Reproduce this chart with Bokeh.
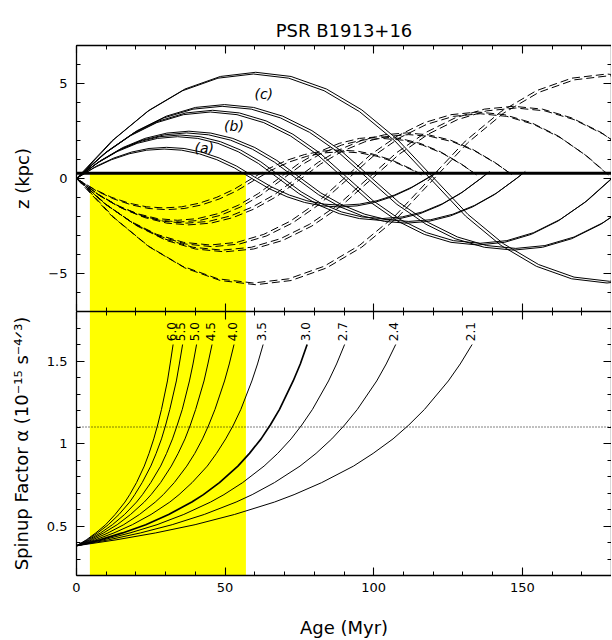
from bokeh.plotting import figure
from bokeh.models import (Range1d, LinearAxis, SingleIntervalTicker, Span, BoxAnnotation,
                          ColumnDataSource, CustomJSTickFormatter)
from bokeh.layouts import column
from bokeh.transform import dodge
from bokeh.core.properties import value
from bokeh.embed import file_html
from bokeh.resources import INLINE

FONT = "DejaVu Sans"

# ---------------- data ----------------
title_text = "PSR B1913+16"
z_now = 0.28            # present height (thick line), kpc
yellow_age = [4.5, 57.0]  # allowed age window, Myr
alpha_ref = 1.1          # dotted reference level

age_ticks = [0, 50, 100, 150]
age_tick_labels = ["0", "50", "100", "150"]
z_ticks = [-5, 0, 5]
z_tick_labels = ["\u22125", "0", "5"]
alpha_ticks = [0.5, 1.0, 1.5]
alpha_tick_labels = ["0.5", "1", "1.5"]

# top panel: z(t) trajectories (solid: launched upward, dashed: launched downward)
t_a_s = [0, 5.9, 11.8, 17.7, 23.6, 29.5, 35.4, 41.3, 47.2, 53.1, 59, 64.9, 70.8, 76.7, 82.6, 88.5, 94.4, 100.3, 106.2, 112.1, 118, 120.8]
z_a_s = [0, 0.56, 0.99, 1.30, 1.49, 1.55, 1.49, 1.30, 0.99, 0.56, 0, -0.54, -0.96, -1.26, -1.44, -1.5, -1.44, -1.26, -0.96, -0.54, 0, 0.28]
t_a_d = [0, 5.9, 11.8, 17.7, 23.6, 29.5, 35.4, 41.3, 47.2, 53.1, 59, 64.9, 70.8, 76.7, 82.6, 88.5, 94.4, 100.3, 106.2, 112.1, 115.3]
z_a_d = [0, -0.56, -0.99, -1.30, -1.49, -1.55, -1.49, -1.30, -0.99, -0.56, 0, 0.54, 0.96, 1.26, 1.44, 1.5, 1.44, 1.26, 0.96, 0.54, 0.28]

t_d_s = [0, 6.8, 13.6, 20.4, 27.2, 34, 40.8, 47.6, 54.4, 61.2, 68, 74.8, 81.6, 88.4, 95.2, 102, 108.8, 115.6, 122.4, 129.2, 136, 138.2]
z_d_s = [0, 0.79, 1.41, 1.85, 2.11, 2.2, 2.11, 1.85, 1.41, 0.79, 0, -0.79, -1.41, -1.85, -2.11, -2.2, -2.11, -1.85, -1.41, -0.79, 0, 0.28]
t_d_d = [0, 6.8, 13.6, 20.4, 27.2, 34, 40.8, 47.6, 54.4, 61.2, 68, 74.8, 81.6, 88.4, 95.2, 102, 108.8, 115.6, 122.4, 129.2, 133.8]
z_d_d = [0, -0.79, -1.41, -1.85, -2.11, -2.2, -2.11, -1.85, -1.41, -0.79, 0, 0.79, 1.41, 1.85, 2.11, 2.2, 2.11, 1.85, 1.41, 0.79, 0.28]

t_e_s = [0, 7.4, 14.8, 22.2, 29.6, 37, 44.4, 51.8, 59.2, 66.6, 74, 81.4, 88.8, 96.2, 103.6, 111, 118.4, 125.8, 133.2, 140.6, 148, 150.2]
z_e_s = [0, 0.86, 1.54, 2.02, 2.30, 2.4, 2.30, 2.02, 1.54, 0.86, 0, -0.85, -1.50, -1.97, -2.26, -2.35, -2.26, -1.97, -1.50, -0.85, 0, 0.28]
t_e_d = [0, 7.4, 14.8, 22.2, 29.6, 37, 44.4, 51.8, 59.2, 66.6, 74, 81.4, 88.8, 96.2, 103.6, 111, 118.4, 125.8, 133.2, 140.6, 145.8]
z_e_d = [0, -0.85, -1.50, -1.97, -2.26, -2.35, -2.26, -1.97, -1.50, -0.85, 0, 0.86, 1.54, 2.02, 2.30, 2.4, 2.30, 2.02, 1.54, 0.86, 0.28]

t_b1_s = [0, 9, 18, 27, 36, 45, 54, 63, 72, 81, 90, 99, 108, 117, 126, 135, 144, 153, 162, 171, 180]
z_b1_s = [0, 1.26, 2.24, 2.94, 3.36, 3.5, 3.36, 2.94, 2.24, 1.26, 0, -1.26, -2.24, -2.94, -3.36, -3.5, -3.36, -2.94, -2.24, -1.26, 0]
t_b1_d = [0, 9, 18, 27, 36, 45, 54, 63, 72, 81, 90, 99, 108, 117, 126, 135, 144, 153, 162, 171, 178.2]
z_b1_d = [0, -1.26, -2.24, -2.94, -3.36, -3.5, -3.36, -2.94, -2.24, -1.26, 0, 1.26, 2.24, 2.94, 3.36, 3.5, 3.36, 2.94, 2.24, 1.26, 0.28]

t_b2 = [0, 9.8, 19.6, 29.4, 39.2, 49, 58.8, 68.6, 78.4, 88.2, 98, 107.8, 117.6, 127.4, 137.2, 147, 156.8, 166.6, 176.4, 186.2]
z_b2_s = [0, 1.37, 2.43, 3.19, 3.65, 3.8, 3.65, 3.19, 2.43, 1.37, 0, -1.36, -2.41, -3.17, -3.62, -3.77, -3.62, -3.17, -2.41, -1.36]
z_b2_d = [0, -1.36, -2.41, -3.17, -3.62, -3.77, -3.62, -3.17, -2.41, -1.36, 0, 1.37, 2.43, 3.19, 3.65, 3.8, 3.65, 3.19, 2.43, 1.37]

t_c = [0, 11.9, 23.8, 35.7, 47.6, 59.5, 71.4, 83.3, 95.2, 107.1, 119, 130.9, 142.8, 154.7, 166.6, 178.5, 190.4]
z_c_s = [0, 1.98, 3.52, 4.62, 5.28, 5.5, 5.28, 4.62, 3.52, 1.98, 0, -1.98, -3.52, -4.62, -5.28, -5.5, -5.28]
z_c_d = [0, -1.98, -3.52, -4.62, -5.28, -5.5, -5.28, -4.62, -3.52, -1.98, 0, 1.98, 3.52, 4.62, 5.28, 5.5, 5.28]

orbit_labels = ["(a)", "(b)", "(c)"]
orbit_label_age = [43, 53, 63]
orbit_label_z = [1.63, 2.78, 4.46]

# bottom panel: spin-up factor alpha vs age for several NS masses/parameters
alpha_levels = [0.38, 0.416, 0.458, 0.508, 0.570, 0.645, 0.690, 0.763, 0.863, 0.940, 1.028, 1.112, 1.207, 1.379, 1.482, 1.600]
curve_labels = ["6.0", "5.5", "5.0", "4.5", "4.0", "3.5", "3.0", "2.7", "2.4", "2.1"]
ages_6_0 = [0, 3.3, 6.5, 9.8, 13.0, 16.3, 17.9, 20.2, 22.8, 24.4, 26.0, 27.3, 28.6, 30.6, 31.5, 32.5]
ages_5_5 = [0, 3.6, 7.1, 10.7, 14.3, 17.9, 19.6, 22.1, 25.0, 26.8, 28.6, 30.0, 31.4, 33.6, 34.6, 35.7]
ages_5_0 = [0, 4.0, 8.1, 12.1, 16.2, 20.2, 22.2, 25.0, 28.3, 30.3, 32.3, 33.9, 35.6, 38.0, 39.2, 40.4]
ages_4_5 = [0, 4.6, 9.1, 13.7, 18.2, 22.8, 25.1, 28.3, 31.9, 34.2, 36.5, 38.3, 40.1, 42.9, 44.2, 45.6]
ages_4_0 = [0, 5.3, 10.6, 15.9, 21.2, 26.5, 29.2, 32.9, 37.1, 39.8, 42.4, 44.5, 46.6, 49.8, 51.4, 53.0]
ages_3_5 = [0, 6.3, 12.6, 18.8, 25.1, 31.4, 34.5, 38.9, 44.0, 47.1, 50.2, 52.8, 55.3, 59.0, 60.9, 62.8]
ages_3_0 = [0, 7.8, 15.5, 23.3, 31.0, 38.8, 42.7, 48.1, 54.3, 58.2, 62.1, 65.2, 68.3, 72.9, 75.3, 77.6]
ages_2_7 = [0, 9.0, 18.0, 27.1, 36.1, 45.1, 49.6, 55.9, 63.1, 67.7, 72.2, 75.8, 79.4, 84.8, 87.5, 90.2]
ages_2_4 = [0, 10.7, 21.5, 32.2, 43.0, 53.7, 59.1, 66.6, 75.2, 80.6, 85.9, 90.2, 94.5, 101.0, 104.2, 107.4]
ages_2_1 = [0, 13.3, 26.6, 39.9, 53.2, 66.6, 73.2, 82.5, 93.2, 99.8, 106.5, 111.8, 117.1, 125.1, 129.1, 133.1]

# ---------------- helpers ----------------
def style_axis(ax, interval, ticks=None, labels=None, show=True):
    ax.ticker = SingleIntervalTicker(interval=interval, num_minor_ticks=5)
    ax.axis_line_color = "black"
    ax.axis_line_width = 1.3
    ax.major_tick_line_color = "black"
    ax.minor_tick_line_color = "black"
    ax.major_tick_line_width = 1.1
    ax.minor_tick_line_width = 1.0
    ax.major_tick_in = 8
    ax.major_tick_out = 0
    ax.minor_tick_in = 4
    ax.minor_tick_out = 0
    ax.major_label_text_font = FONT
    ax.major_label_text_font_size = "13px"
    ax.major_label_text_color = "black"
    if show:
        ax.major_label_overrides = dict(zip(ticks, labels))
    else:
        ax.formatter = CustomJSTickFormatter(code="return ''")
        ax.major_label_text_font_size = "0px"
        ax.major_label_standoff = 0
        ax.axis_label = None


def style_label(ax, text, standoff):
    ax.axis_label = text
    ax.axis_label_text_font = FONT
    ax.axis_label_text_font_size = "18px"
    ax.axis_label_text_font_style = "normal"
    ax.axis_label_text_color = "black"
    ax.axis_label_standoff = standoff


W = 611
LEFT = 76

# ---------------- top panel ----------------
p1 = figure(width=W, height=311, x_range=Range1d(0, 180), y_range=Range1d(-7, 7),
            output_backend="svg", toolbar_location=None,
            min_border_left=LEFT, min_border_right=0, min_border_top=45, min_border_bottom=0)
p1.outline_line_color = None
p1.xgrid.visible = False
p1.ygrid.visible = False
p1.background_fill_color = "white"
p1.border_fill_color = "white"
p1.title.text = title_text
p1.title.align = "center"
p1.title.text_font = FONT
p1.title.text_font_size = "18px"
p1.title.text_font_style = "normal"
p1.title.text_color = "black"

style_axis(p1.yaxis[0], 5, z_ticks, z_tick_labels)
p1.yaxis[0].major_label_standoff = 9
style_label(p1.yaxis[0], "z (kpc)", 12)
style_axis(p1.xaxis[0], 50, show=False)
ax_top1 = LinearAxis()
style_axis(ax_top1, 50, show=False)
p1.add_layout(ax_top1, "above")
ax_right1 = LinearAxis()
style_axis(ax_right1, 5, show=False)
p1.add_layout(ax_right1, "right")

p1.add_layout(BoxAnnotation(left=yellow_age[0], right=yellow_age[1], top=z_now,
                            fill_color="#ffff00", fill_alpha=1.0, line_alpha=0,
                            level="underlay"))

solid_sets = [(t_a_s, z_a_s), (t_d_s, z_d_s), (t_e_s, z_e_s), (t_b1_s, z_b1_s), (t_b2, z_b2_s), (t_c, z_c_s)]
dashed_sets = [(t_a_d, z_a_d), (t_d_d, z_d_d), (t_e_d, z_e_d), (t_b1_d, z_b1_d), (t_b2, z_b2_d), (t_c, z_c_d)]

for t, z in solid_sets:
    src = ColumnDataSource(dict(t=t, z=z))
    p1.line("t", "z", source=src, line_color="black", line_width=1.0)
    p1.line(x=dodge("t", 0.8), y=dodge("z", 0.09), source=src, line_color="black", line_width=1.0)
for t, z in dashed_sets:
    src = ColumnDataSource(dict(t=t, z=z))
    p1.line("t", "z", source=src, line_color="black", line_width=1.0, line_dash="8 4")
    p1.line(x=dodge("t", 0.8), y=dodge("z", -0.09), source=src, line_color="black",
            line_width=1.0, line_dash="8 4")

p1.add_layout(Span(location=z_now, dimension="width", line_color="black", line_width=3))

lab_src = ColumnDataSource(dict(x=orbit_label_age, y=orbit_label_z, text=orbit_labels))
p1.text("x", "y", text="text", source=lab_src, text_font=value(FONT), text_font_size="14px",
        text_font_style="italic", text_align="center", text_baseline="middle", text_color="black")

# ---------------- bottom panel ----------------
p2 = figure(width=W, height=329, x_range=p1.x_range, y_range=Range1d(0.2, 1.8),
            output_backend="svg", toolbar_location=None,
            min_border_left=LEFT, min_border_right=0, min_border_top=0, min_border_bottom=63)
p2.outline_line_color = None
p2.xgrid.visible = False
p2.ygrid.visible = False
p2.background_fill_color = "white"
p2.border_fill_color = "white"

style_axis(p2.yaxis[0], 0.5, alpha_ticks, alpha_tick_labels)
p2.yaxis[0].major_label_standoff = 9
style_label(p2.yaxis[0], "Spinup Factor \u03b1 (10\u207b\u00b9\u2075 s\u207b\u2074\u141f\u00b3)", 12)
style_axis(p2.xaxis[0], 50, age_ticks, age_tick_labels)
p2.xaxis[0].major_label_standoff = 7
style_label(p2.xaxis[0], "Age (Myr)", 22)
ax_top2 = LinearAxis()
style_axis(ax_top2, 50, show=False)
p2.add_layout(ax_top2, "above")
ax_right2 = LinearAxis()
style_axis(ax_right2, 0.5, show=False)
p2.add_layout(ax_right2, "right")

p2.add_layout(BoxAnnotation(left=yellow_age[0], right=yellow_age[1],
                            fill_color="#ffff00", fill_alpha=1.0, line_alpha=0,
                            level="underlay"))
p2.add_layout(Span(location=alpha_ref, dimension="width", line_color="black",
                   line_width=1.0, line_dash="1 2"))

all_ages = [ages_6_0, ages_5_5, ages_5_0, ages_4_5, ages_4_0, ages_3_5, ages_3_0, ages_2_7, ages_2_4, ages_2_1]
for lab, ages in zip(curve_labels, all_ages):
    lw = 1.7 if lab == "3.0" else 1.0
    p2.line(ages, alpha_levels, line_color="black", line_width=lw)

end_src = ColumnDataSource(dict(x=[a[-1] for a in all_ages],
                                y=[alpha_levels[-1]] * len(all_ages),
                                text=curve_labels))
p2.text(x=dodge("x", -0.6), y=dodge("y", 0.02), text="text", source=end_src,
        angle=1.5708, text_font=value(FONT), text_font_size="12px",
        text_align="left", text_baseline="middle", text_color="black")

layout = column(p1, p2, spacing=0)
open("out.html", "w").write(file_html(layout, INLINE))
